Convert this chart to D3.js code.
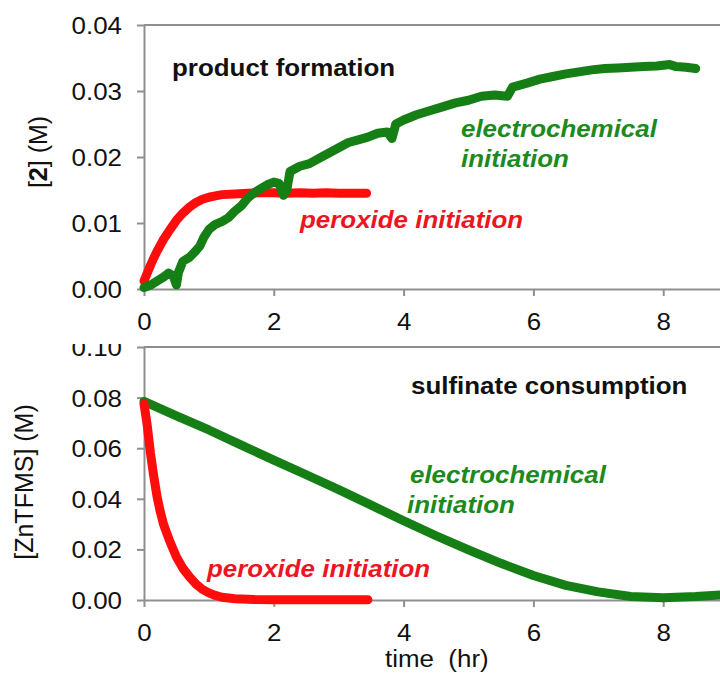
<!DOCTYPE html>
<html><head><meta charset="utf-8">
<script src="https://cdn.jsdelivr.net/npm/d3@7"></script>
<style>
html,body{margin:0;padding:0;background:#fff;}
svg{display:block;font-family:"Liberation Sans",Arial,sans-serif;}
</style></head>
<body>
<svg id="c" width="720" height="675"></svg>
<script>
// ---- data (time in hr, concentration in M) ----
const xTicks = [0, 2, 4, 6, 8];
const topYTicks = [0, 0.01, 0.02, 0.03, 0.04];
const botYTicks = [0, 0.02, 0.04, 0.06, 0.08, 0.10];

const prodPeroxT = [0.00,0.05,0.10,0.15,0.20,0.25,0.30,0.40,0.50,0.60,0.70,0.80,0.90,1.00,1.10,1.20,1.40,1.60,1.80,2.00,2.20,2.40,2.60,2.80,3.00,3.20,3.43];
const prodPeroxV = [0.0012,0.0024,0.0036,0.0047,0.0057,0.0066,0.0075,0.0090,0.0104,0.0115,0.0124,0.0131,0.0136,0.0139,0.0141,0.0143,0.0144,0.0145,0.0146,0.0146,0.0145,0.0146,0.0145,0.0146,0.0145,0.0145,0.0145];

const prodElecT = [0.00,0.10,0.20,0.30,0.38,0.45,0.50,0.53,0.60,0.70,0.80,0.86,0.92,1.00,1.10,1.20,1.30,1.40,1.50,1.60,1.70,1.80,1.90,2.00,2.08,2.15,2.20,2.25,2.40,2.55,2.70,2.85,3.00,3.15,3.30,3.45,3.60,3.75,3.82,3.88,4.00,4.20,4.40,4.60,4.80,5.00,5.20,5.40,5.60,5.68,5.90,6.10,6.30,6.50,6.70,6.90,7.10,7.30,7.50,7.70,7.90,8.10,8.20,8.35,8.50];
const prodElecV = [0.0002,0.0006,0.0012,0.0018,0.0024,0.0020,0.0006,0.0025,0.0042,0.0048,0.0058,0.0065,0.0078,0.0090,0.0098,0.0102,0.0108,0.0118,0.0126,0.0138,0.0146,0.0152,0.0158,0.0162,0.0160,0.0142,0.0150,0.0178,0.0186,0.0190,0.0198,0.0206,0.0214,0.0222,0.0226,0.0230,0.0236,0.0238,0.0228,0.0250,0.0256,0.0264,0.0270,0.0276,0.0282,0.0286,0.0292,0.0294,0.0292,0.0306,0.0312,0.0318,0.0322,0.0326,0.0329,0.0332,0.0334,0.0335,0.0336,0.0337,0.0338,0.0340,0.0337,0.0336,0.0334];

const sulfPeroxT = [0.00,0.05,0.10,0.15,0.20,0.25,0.30,0.35,0.40,0.50,0.60,0.70,0.80,0.90,1.00,1.10,1.20,1.40,1.70,2.00,2.50,3.00,3.45];
const sulfPeroxV = [0.0775,0.0690,0.0580,0.0490,0.0410,0.0350,0.0300,0.0265,0.0230,0.0170,0.0125,0.0092,0.0063,0.0042,0.0028,0.0018,0.0011,0.0005,0.0002,0.0001,0.0001,0.0001,0.0001];

const sulfElecT = [0.0,0.5,1.0,1.5,2.0,2.5,3.0,3.5,4.0,4.5,5.0,5.5,6.0,6.5,7.0,7.5,8.0,8.5,9.0,9.5];
const sulfElecV = [0.0785,0.0728,0.0672,0.0612,0.0553,0.0495,0.0436,0.0375,0.0313,0.0254,0.0198,0.0145,0.0097,0.0058,0.0032,0.0014,0.0009,0.0014,0.0022,0.0028];

// ---- drawing ----
const GREEN = "#157f15", RED = "#ff0d0d";
const GREEN_TXT = "#1c8a1c", RED_TXT = "#ee1522";
const AXIS = "#8f8f8f";
const FS = 24, SX = 1.08;
const svg = d3.select("#c");

const x = d3.scaleLinear().domain([0, 10]).range([144, 793]);
const yTop = d3.scaleLinear().domain([0, 0.04]).range([289, 25]);
const yBot = d3.scaleLinear().domain([0, 0.10]).range([600, 347]);

function zip(t, v){ return t.map((d,i)=>[d, v[i]]); }

function label(g, txt, xx, yy, opts){
  return g.append("text")
    .attr("transform", `translate(${xx},${yy}) scale(${SX},1)`)
    .attr("font-size", opts.size || FS)
    .attr("font-weight", opts.weight || "normal")
    .attr("font-style", opts.style || "normal")
    .attr("fill", opts.fill || "#111")
    .attr("text-anchor", opts.anchor || "start")
    .style("white-space", "pre")
    .text(txt);
}

function panel(y, yTicks, fmt, clipTop){
  const g = svg.append("g");
  const xa = g.append("g").attr("transform", `translate(0,${y.range()[0]})`)
    .call(d3.axisBottom(x).tickValues(xTicks).tickSize(7).tickSizeOuter(0).tickFormat(d3.format("d")));
  const ya = g.append("g").attr("transform", `translate(${x.range()[0]},0)`)
    .call(d3.axisLeft(y).tickValues(yTicks).tickSize(7).tickSizeOuter(0).tickFormat(fmt));
  g.append("line").attr("x1", x.range()[0]).attr("x2", 720)
    .attr("y1", y.range()[1]).attr("y2", y.range()[1])
    .attr("stroke", AXIS).attr("stroke-width", 2);
  [xa, ya].forEach(a => {
    a.select(".domain").attr("stroke", AXIS).attr("stroke-width", 2);
    a.selectAll(".tick line").attr("stroke", AXIS).attr("stroke-width", 2);
    a.selectAll(".tick text").attr("font-size", FS).attr("fill", "#111")
      .attr("font-family", '"Liberation Sans",Arial,sans-serif');
  });
  xa.selectAll(".tick text").attr("y", 0).attr("dy", null)
    .attr("transform", `translate(0,41) scale(${SX},1)`);
  ya.selectAll(".tick text").attr("x", 0).attr("dy", "0.35em")
    .attr("transform", `translate(-22,0) scale(${SX},1)`);
  if (clipTop !== undefined){
    svg.append("clipPath").attr("id","clipTick").append("rect")
      .attr("x",-300).attr("y",clipTop).attr("width",1200).attr("height",700);
    ya.attr("clip-path","url(#clipTick)");
  }
  return g;
}

const gTop = panel(yTop, topYTicks, d3.format(".2f"));
const gBot = panel(yBot, botYTicks, d3.format(".2f"), 344);

function curve(g, y, data, color, w){
  g.append("path").datum(data)
    .attr("d", d3.line().x(d=>x(d[0])).y(d=>y(d[1])))
    .attr("fill","none").attr("stroke", color).attr("stroke-width", w)
    .attr("stroke-linejoin","round").attr("stroke-linecap","round");
}
curve(gTop, yTop, zip(prodPeroxT, prodPeroxV), RED, 9);
curve(gTop, yTop, zip(prodElecT, prodElecV), GREEN, 9);
curve(gBot, yBot, zip(sulfElecT, sulfElecV), GREEN, 9);
curve(gBot, yBot, zip(sulfPeroxT, sulfPeroxV), RED, 9);

// annotations
label(svg, "product formation", 172, 76, {weight:"bold"});
label(svg, "electrochemical", 461, 137, {weight:"bold", style:"italic", fill:GREEN_TXT});
label(svg, "initiation", 461, 167, {weight:"bold", style:"italic", fill:GREEN_TXT});
label(svg, "peroxide initiation", 300, 228, {weight:"bold", style:"italic", fill:RED_TXT});

label(svg, "sulfinate consumption", 411, 394, {weight:"bold"});
label(svg, "electrochemical", 410, 483, {weight:"bold", style:"italic", fill:GREEN_TXT});
label(svg, "initiation", 407, 513, {weight:"bold", style:"italic", fill:GREEN_TXT});
label(svg, "peroxide initiation", 207, 577, {weight:"bold", style:"italic", fill:RED_TXT});

label(svg, "time  (hr)", 385, 667, {});

// y axis titles
const yt1 = svg.append("text")
  .attr("transform", "translate(47,152) rotate(-90)")
  .attr("font-size", 25).attr("fill", "#111").attr("text-anchor","middle")
  .style("white-space","pre");
yt1.append("tspan").text("[");
yt1.append("tspan").attr("font-weight","bold").text("2");
yt1.append("tspan").text("] (M)");

svg.append("text")
  .attr("transform", "translate(33,482) rotate(-90)")
  .attr("font-size", 25).attr("fill", "#111").attr("text-anchor","middle")
  .text("[ZnTFMS] (M)");
</script>
</body></html>
